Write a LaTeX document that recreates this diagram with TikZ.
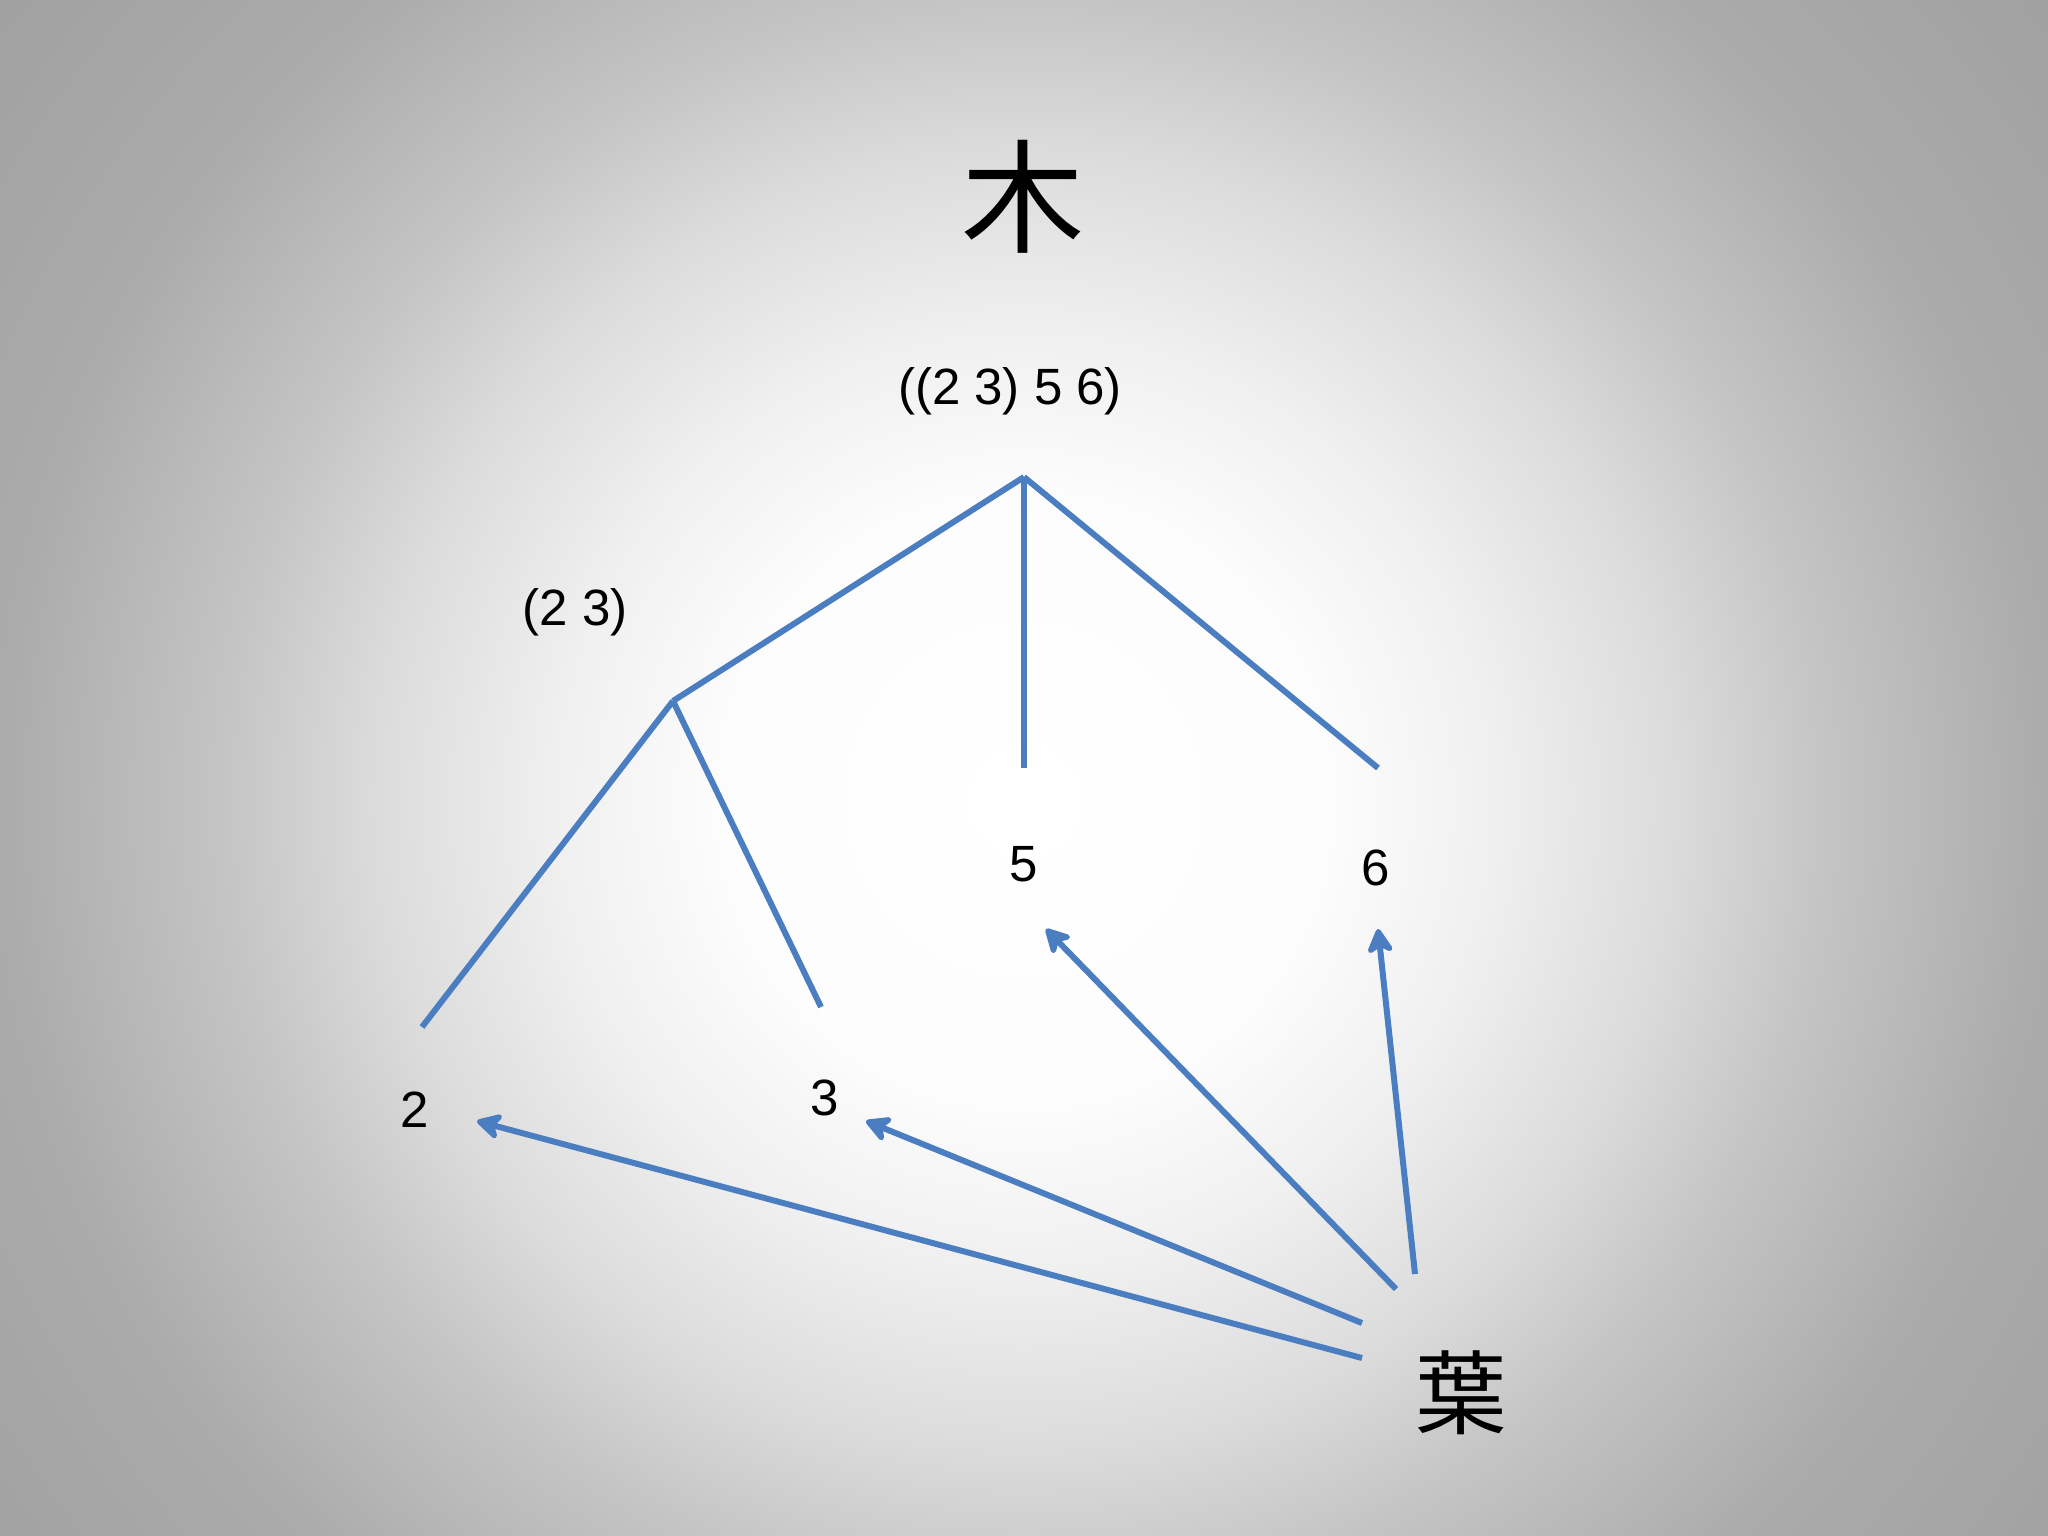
\documentclass[tikz,border=0pt]{standalone}
\usepackage{fontspec}
\setmainfont{Liberation Sans}
\newfontfamily\cjk{Noto Sans CJK JP}
\usetikzlibrary{arrows.meta}
\definecolor{lineblue}{RGB}{74,126,193}
\pgfdeclareradialshading{bgshade}{\pgfpoint{0bp}{0bp}}{%
  color(0bp)=(white);
  color(5.8bp)=(black!1);
  color(9bp)=(black!6);
  color(12.5bp)=(black!14);
  color(15.4bp)=(black!23);
  color(19.7bp)=(black!33);
  color(25bp)=(black!37);
  color(50bp)=(black!37)}
\tikzset{
  branch/.style={draw=lineblue, line width=1.7pt},
  pointer/.style={draw=lineblue, line width=1.7pt, -{Stealth[length=0.3cm,width=0.32cm,inset=0.09cm,round]}},
  num/.style={font=\fontsize{14.5}{17}\selectfont, inner sep=0pt},
  bigchar/.style={font=\cjk\fontsize{35}{40}\selectfont, inner sep=0pt},
  midchar/.style={font=\cjk\fontsize{26}{30}\selectfont, inner sep=0pt}
}
\begin{document}
\begin{tikzpicture}[x=0.01cm, y=-0.01cm]
\useasboundingbox (0,0) rectangle (2048,1536);
\shade[shading=bgshade] (-276,-500) rectangle (2324,2100);
% labels
\node[bigchar] (title) at (1023,197) {木};
\node[num] (rootlbl) at (1010,391) {((2 3) 5 6)};
\node[num] (lbl23) at (575,612) {(2 3)};
\node[num] (lbl5) at (1024,864) {5};
\node[num] (lbl6) at (1376,868) {6};
\node[num] (lbl2) at (415,1110) {2};
\node[num] (lbl3) at (825,1098) {3};
\node[midchar] (leaf) at (1461,1393) {葉};
% tree
\coordinate (root) at (1024,477);
\coordinate (n23) at (673,701);
\coordinate (e5) at (1024,768);
\coordinate (e6) at (1378,768);
\coordinate (e2) at (422,1027);
\coordinate (e3) at (821,1007);
\draw[branch] (root) -- (n23);
\draw[branch] (root) -- (e5);
\draw[branch] (root) -- (e6);
\draw[branch] (n23) -- (e2);
\draw[branch] (n23) -- (e3);
% pointers
\coordinate (s2) at (1362,1358);
\coordinate (s3) at (1362,1323);
\coordinate (s5) at (1396,1289);
\coordinate (s6) at (1415,1274);
\coordinate (t2) at (477,1121);
\coordinate (t3) at (866,1121);
\coordinate (t5) at (1046,929);
\coordinate (t6) at (1378,929);
\draw[pointer] (s2) -- (t2);
\draw[pointer] (s3) -- (t3);
\draw[pointer] (s5) -- (t5);
\draw[pointer] (s6) -- (t6);
\end{tikzpicture}
\end{document}
